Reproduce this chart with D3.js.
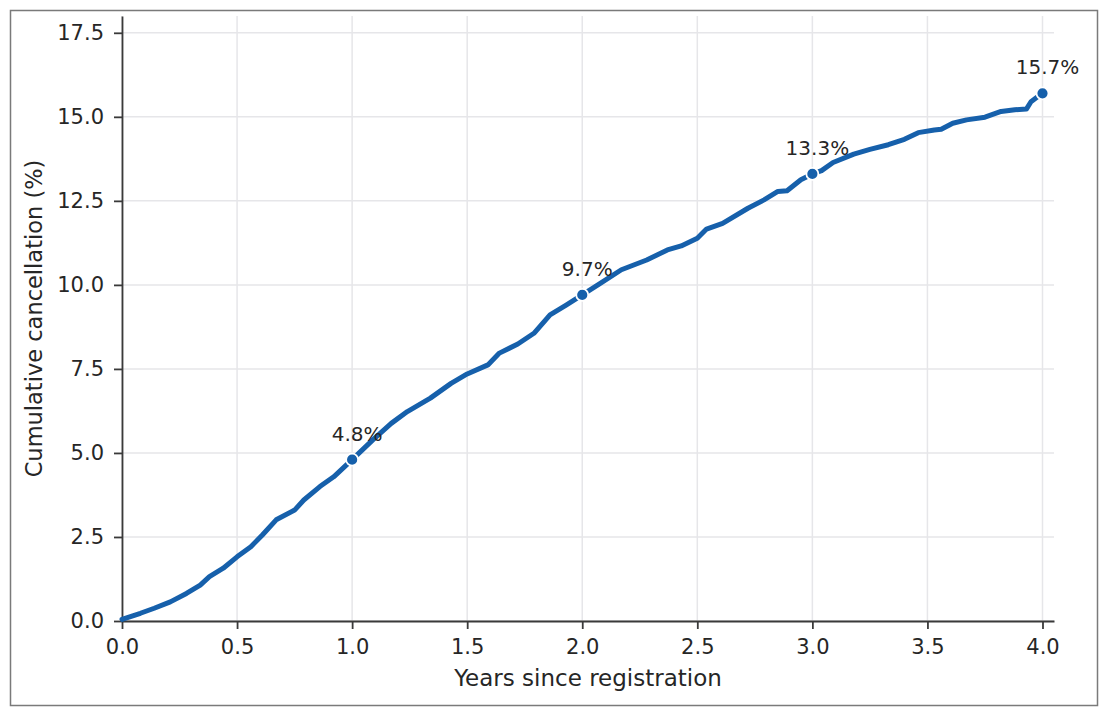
<!DOCTYPE html>
<html>
<head>
<meta charset="utf-8">
<script src="https://cdn.jsdelivr.net/npm/d3@7"></script>
<style>
    body { margin: 0; background: #fff; }
    svg text { font-family: "DejaVu Sans", sans-serif; }
    .grid line { stroke: #e6e6e9; stroke-width: 1.5; }
    .axis path, .axis line { stroke: #3a3a3a; stroke-width: 1.8; }
    .axis text { fill: #262626; font-size: 21px; font-family: "DejaVu Sans", sans-serif; }
</style>
</head>
<body>
<div id="chart"></div>
<script>
// years since registration vs cumulative cancellation (%)
const years = [0, 0.08, 0.14, 0.21, 0.28, 0.34, 0.38, 0.44, 0.50, 0.56, 0.61, 0.67, 0.75, 0.79, 0.86, 0.92,
    1.00, 1.09, 1.17, 1.24, 1.34, 1.43, 1.50, 1.59, 1.64, 1.72, 1.79, 1.86, 1.93,
    2.00, 2.08, 2.17, 2.28, 2.37, 2.43, 2.50, 2.54, 2.61, 2.72, 2.79, 2.85, 2.89, 2.95,
    3.00, 3.04, 3.09, 3.18, 3.25, 3.33, 3.40, 3.46, 3.53, 3.56, 3.61, 3.67, 3.75, 3.82, 3.88, 3.93, 3.95, 3.97, 4.00];
const cancellation = [0.05, 0.23, 0.38, 0.57, 0.82, 1.07, 1.32, 1.57, 1.91, 2.21, 2.56, 3.01, 3.30, 3.60, 4.00, 4.29,
    4.80, 5.39, 5.88, 6.23, 6.63, 7.07, 7.35, 7.62, 7.97, 8.24, 8.56, 9.11, 9.40,
    9.70, 10.05, 10.45, 10.74, 11.04, 11.16, 11.39, 11.66, 11.83, 12.28, 12.53, 12.78, 12.80, 13.13,
    13.30, 13.40, 13.64, 13.89, 14.03, 14.17, 14.33, 14.53, 14.61, 14.63, 14.81, 14.91, 14.99, 15.16, 15.21, 15.23, 15.45, 15.55, 15.70];

// annotated yearly milestones
const markYears = [1, 2, 3, 4];
const markValues = [4.8, 9.7, 13.3, 15.7];

const xTicks = [0, 0.5, 1, 1.5, 2, 2.5, 3, 3.5, 4];
const yTicks = [0, 2.5, 5, 7.5, 10, 12.5, 15, 17.5];

const width = 1107, height = 715;
const margin = { top: 16, right: 53, bottom: 94, left: 122 };
const lineColor = "#1660ab";

const svg = d3.select("#chart").append("svg")
    .attr("width", width)
    .attr("height", height);

// figure frame
svg.append("rect")
    .attr("x", 10.5).attr("y", 10.5)
    .attr("width", 1087).attr("height", 695)
    .attr("fill", "none")
    .attr("stroke", "#7a7a7a")
    .attr("stroke-width", 1.5);

const x = d3.scaleLinear().domain([0, 4.05]).range([margin.left, width - margin.right]);
const y = d3.scaleLinear().domain([0, 18]).range([height - margin.bottom, margin.top]);

// grid
const grid = svg.append("g").attr("class", "grid");
grid.selectAll("line.v").data(xTicks).enter().append("line")
    .attr("x1", d => x(d)).attr("x2", d => x(d))
    .attr("y1", y(0)).attr("y2", y(18));
grid.selectAll("line.h").data(yTicks).enter().append("line")
    .attr("x1", x(0)).attr("x2", x(4.05))
    .attr("y1", d => y(d)).attr("y2", d => y(d));

// axes
svg.append("g")
    .attr("class", "axis")
    .attr("transform", `translate(0,${y(0)})`)
    .call(d3.axisBottom(x).tickValues(xTicks).tickFormat(d3.format(".1f")).tickSize(8).tickPadding(10).tickSizeOuter(0));

svg.append("g")
    .attr("class", "axis")
    .attr("transform", `translate(${x(0)},0)`)
    .call(d3.axisLeft(y).tickValues(yTicks).tickFormat(d3.format(".1f")).tickSize(8).tickPadding(10).tickSizeOuter(0));

// axis titles
svg.append("text")
    .attr("x", (x(0) + x(4.05)) / 2)
    .attr("y", 686)
    .attr("text-anchor", "middle")
    .style("font-size", "23px")
    .style("fill", "#262626")
    .text("Years since registration");

svg.append("text")
    .attr("transform", `translate(42,${(y(0) + y(18)) / 2}) rotate(-90)`)
    .attr("text-anchor", "middle")
    .style("font-size", "22.5px")
    .style("fill", "#262626")
    .text("Cumulative cancellation (%)");

// curve
const points = years.map((d, i) => [d, cancellation[i]]);
const line = d3.line().x(d => x(d[0])).y(d => y(d[1]));

svg.append("path")
    .datum(points)
    .attr("fill", "none")
    .attr("stroke", lineColor)
    .attr("stroke-width", 5)
    .attr("stroke-linejoin", "round")
    .attr("stroke-linecap", "round")
    .attr("d", line);

// milestone markers + labels
const marks = markYears.map((d, i) => ({ year: d, value: markValues[i] }));

svg.append("g").selectAll("circle")
    .data(marks)
    .enter().append("circle")
    .attr("cx", d => x(d.year))
    .attr("cy", d => y(d.value))
    .attr("r", 6)
    .attr("fill", lineColor)
    .attr("stroke", "#fff")
    .attr("stroke-width", 1.8);

svg.append("g").selectAll("text")
    .data(marks)
    .enter().append("text")
    .attr("x", d => x(d.year) + 5)
    .attr("y", d => y(d.value) - 19)
    .attr("text-anchor", "middle")
    .style("font-size", "20px")
    .style("fill", "#262626")
    .text(d => d.value.toFixed(1) + "%");
</script>
</body>
</html>
